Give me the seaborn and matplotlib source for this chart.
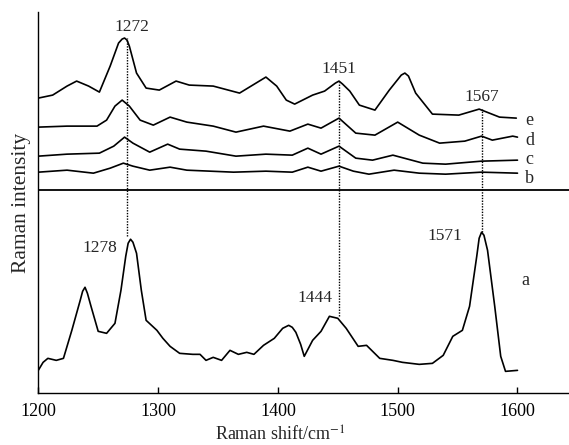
import seaborn as sns
import matplotlib.pyplot as plt
import pandas as pd
import numpy as np

# spectrum a (bottom panel)
a_shift = [1200, 1204, 1208, 1215, 1221, 1228, 1235, 1237, 1239, 1241, 1244, 1250, 1257, 1264,
           1269, 1273, 1275, 1277, 1279, 1282, 1286, 1290, 1299, 1304, 1310, 1318, 1329, 1335,
           1340, 1346, 1353, 1360, 1367, 1374, 1380, 1388, 1397, 1404, 1409, 1412, 1415, 1419,
           1422, 1429, 1436, 1443, 1450, 1457, 1467, 1474, 1485, 1496, 1504, 1518, 1529, 1538,
           1546, 1554, 1560, 1566, 1568, 1570, 1572, 1575, 1581, 1586, 1590, 1600]
a_int = [23, 31, 35, 33, 35, 63, 93, 102, 106, 100, 87, 62, 60, 70,
         103, 137, 150, 154, 151, 140, 103, 73, 63, 55, 47, 40, 39, 39,
         33, 36, 33, 43, 39, 41, 39, 48, 55, 65, 68, 66, 61, 49,
         37, 53, 62, 77, 75, 65, 47, 48, 35, 33, 31, 29, 30, 38,
         57, 63, 87, 137, 155, 161, 158, 143, 87, 37, 22, 23]

# spectra b-e (upper panel, stacked)
e_shift = [1200, 1212, 1224, 1232, 1242, 1251, 1260, 1267, 1270, 1272, 1274, 1276, 1282, 1290,
           1301, 1315, 1326, 1346, 1368, 1379, 1390, 1399, 1407, 1414, 1429, 1439, 1448, 1451,
           1454, 1460, 1468, 1481, 1493, 1503, 1506, 1509, 1515, 1529, 1551, 1568, 1585, 1599]
e_int = [295, 298, 307, 312, 307, 301, 327, 350, 354, 355, 353, 347, 320, 305,
         303, 312, 308, 307, 300, 308, 316, 307, 293, 289, 298, 302, 310, 312,
         309, 302, 288, 283, 303, 318, 320, 317, 300, 279, 278, 284, 276, 275]

d_shift = [1200, 1224, 1249, 1257, 1264, 1270, 1276, 1285, 1296, 1310, 1324, 1346, 1365, 1388,
           1410, 1425, 1436, 1451, 1465, 1481, 1500, 1518, 1535, 1556, 1570, 1579, 1596, 1600]
d_int = [266, 267, 267, 273, 287, 293, 287, 273, 268, 276, 271, 267, 261, 267,
         262, 269, 265, 275, 260, 258, 271, 258, 250, 252, 257, 253, 257, 256]

c_shift = [1200, 1224, 1251, 1263, 1272, 1279, 1293, 1308, 1318, 1340, 1365, 1390, 1412, 1425,
           1436, 1451, 1465, 1479, 1496, 1521, 1540, 1570, 1600]
c_int = [237, 239, 240, 247, 256, 250, 241, 249, 244, 242, 237, 239, 238, 245,
         239, 247, 235, 233, 238, 230, 229, 232, 233]

b_shift = [1200, 1224, 1246, 1260, 1271, 1279, 1293, 1310, 1324, 1363, 1390, 1412, 1425, 1436,
           1451, 1463, 1476, 1497, 1518, 1540, 1570, 1600]
b_int = [221, 223, 220, 225, 230, 227, 223, 226, 223, 221, 222, 221, 226, 222,
         227, 222, 219, 223, 220, 219, 221, 220]

spectra = {"a": (a_shift, a_int), "b": (b_shift, b_int), "c": (c_shift, c_int),
           "d": (d_shift, d_int), "e": (e_shift, e_int)}

# peak labels and dotted guide lines
peak_labels = ["1272", "1451", "1567", "1278", "1444", "1571"]
label_x = [1278, 1451, 1570, 1251, 1431, 1539]
label_y = [366, 324, 296, 145, 95, 157]
guide_x = [1274, 1451, 1570]
guide_lo = [157, 77, 161]
guide_hi = [355, 311, 284]

curve_names = ["a", "b", "c", "d", "e"]
name_x = [1607, 1610, 1610, 1610, 1610]
name_y = [113, 215, 234, 253, 273]

rows = []
for name, (xs, ys) in spectra.items():
    for x, y in zip(xs, ys):
        rows.append({"shift": x, "intensity": y, "curve": name})
df = pd.DataFrame(rows)

sns.set_theme(style="ticks")
plt.rcParams["font.family"] = ["Liberation Serif", "DejaVu Serif"]
plt.rcParams["mathtext.fontset"] = "stix"

fig = plt.figure(figsize=(5.69, 4.45), dpi=100)
ax = fig.add_axes([0.0673, 0.116, 0.9327, 0.857])

sns.lineplot(data=df, x="shift", y="intensity", units="curve", estimator=None,
             color="black", lw=1.2, sort=False, ax=ax)

ax.axhline(203, color="black", lw=1.3)
ax.vlines(guide_x, guide_lo, guide_hi, colors="black", linestyles=(0, (1, 1)), lw=1.0)

for t, x, y in zip(peak_labels, label_x, label_y):
    ax.text(x, y, t, ha="center", va="center", fontsize=12.5)
for t, x, y in zip(curve_names, name_x, name_y):
    ax.text(x, y, t, ha="center", va="center", fontsize=13)

ax.set_xlim(1200, 1643)
ax.set_ylim(0, 381)
ax.set_xticks([1200, 1300, 1400, 1500, 1600])
ax.set_yticks([])
ax.tick_params(axis="x", direction="in", length=4, width=1, labelsize=13, pad=7, colors="black")
for s in ["top", "right"]:
    ax.spines[s].set_visible(False)
for s in ["left", "bottom"]:
    ax.spines[s].set_color("black")
    ax.spines[s].set_linewidth(1.0)
ax.set_xlabel("Raman shift/cm$^{-1}$", fontsize=13, labelpad=4)
ax.xaxis.set_label_coords(0.455, -0.085)
ax.set_ylabel("Raman intensity", fontsize=15.5, labelpad=5)

fig.savefig("out.png", dpi=100)
